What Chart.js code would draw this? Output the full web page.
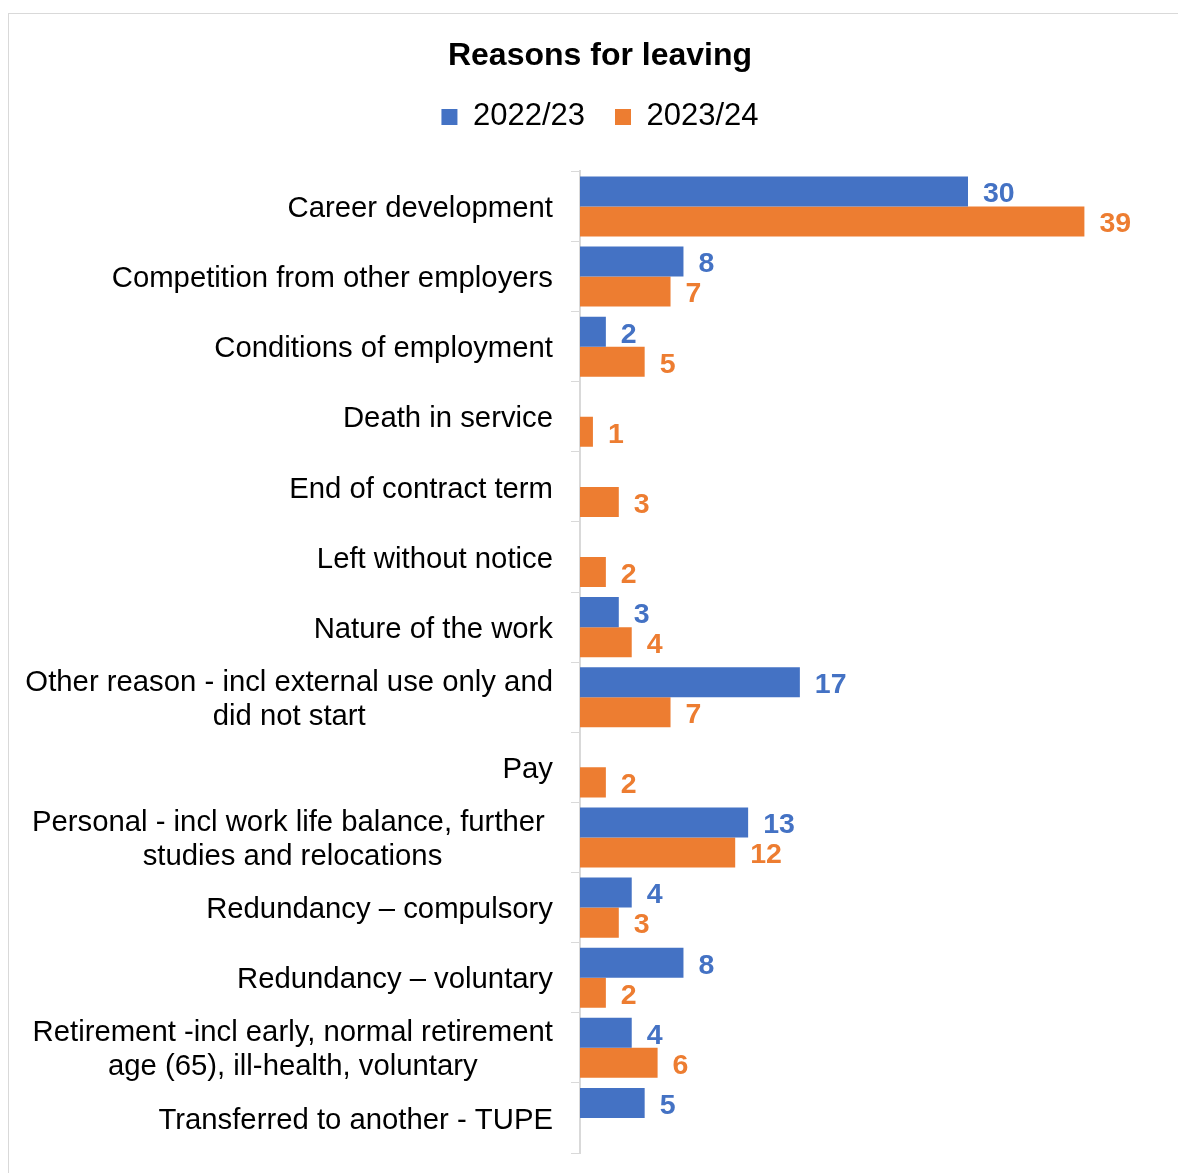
<!DOCTYPE html>
<html>
<head>
<meta charset="utf-8">
<script src="https://cdn.jsdelivr.net/npm/chart.js@4.4.1/dist/chart.umd.min.js"></script>
<style>
  html, body { margin: 0; padding: 0; background: #fff; overflow: hidden; }
  #box {
    position: absolute; left: 8px; top: 13px;
    width: 1184px; height: 1180px;
    border: 1px solid #d9d9d9; background: #fff;
  }
  #box canvas { display: block; }
</style>
</head>
<body>
<div id="box"><canvas id="leaversChart" width="1182" height="1175"></canvas></div>
<script>
// Categories (multi-line labels kept as arrays)
const reasons = [
  ["Career development"],
  ["Competition from other employers"],
  ["Conditions of employment"],
  ["Death in service"],
  ["End of contract term"],
  ["Left without notice"],
  ["Nature of the work"],
  ["Other reason - incl external use only and", "did not start"],
  ["Pay"],
  ["Personal - incl work life balance, further ", "studies and relocations"],
  ["Redundancy \u2013 compulsory"],
  ["Redundancy \u2013 voluntary"],
  ["Retirement -incl early, normal retirement", "age (65), ill-health, voluntary"],
  ["Transferred to another - TUPE"]
];

// Series values
const leavers2223 = [30, 8, 2, null, null, null, 3, 17, null, 13, 4, 8, 4, 5];
const leavers2324 = [39, 7, 5, 1, 3, 2, 4, 7, 2, 12, 3, 2, 6, null];

const seriesNames = ["2022/23", "2023/24"];
const fontFamily = "'Liberation Sans', Arial, sans-serif";

// Extra space below the legend
const legendGap = {
  id: "legendGap",
  beforeInit(chart) {
    const fit = chart.legend.fit;
    chart.legend.fit = function () {
      fit.bind(chart.legend)();
      this.height += 29;
    };
  },
};

// Category labels: right-aligned block, lines centred within it
const categoryLabels = {
  id: "categoryLabels",
  afterDraw(chart) {
    const ctx = chart.ctx;
    const yScale = chart.scales.y;
    const rightEdge = yScale.right - 27;
    const lineHeight = 34;
    ctx.save();
    ctx.font = "29.3px " + fontFamily;
    ctx.fillStyle = "#000";
    ctx.textBaseline = "middle";
    ctx.textAlign = "center";
    reasons.forEach((lines, i) => {
      const yc = yScale.getPixelForValue(i) + 2.5;
      const blockWidth = Math.max(...lines.map((l) => ctx.measureText(l).width));
      const xc = rightEdge - blockWidth / 2;
      lines.forEach((line, j) => {
        const y = yc + (j - (lines.length - 1) / 2) * lineHeight;
        ctx.fillText(line, xc, y);
      });
    });
    ctx.restore();
  },
};

// Value labels after each bar
const valueLabels = {
  id: "valueLabels",
  afterDatasetsDraw(chart) {
    const ctx = chart.ctx;
    ctx.save();
    ctx.font = "bold 28.5px " + fontFamily;
    ctx.textBaseline = "middle";
    ctx.textAlign = "left";
    chart.data.datasets.forEach((ds, di) => {
      const meta = chart.getDatasetMeta(di);
      ctx.fillStyle = ds.backgroundColor;
      meta.data.forEach((bar, i) => {
        const v = ds.data[i];
        if (v === null || v === undefined) return;
        ctx.fillText(String(v), bar.x + 15, bar.y + 3);
      });
    });
    ctx.restore();
  },
};

new Chart(document.getElementById("leaversChart").getContext("2d"), {
  type: "bar",
  data: {
    labels: reasons,
    datasets: [
      {
        label: seriesNames[0],
        data: leavers2223,
        backgroundColor: "#4472C4",
        categoryPercentage: 0.857,
        barPercentage: 1.0,
      },
      {
        label: seriesNames[1],
        data: leavers2324,
        backgroundColor: "#ED7D31",
        categoryPercentage: 0.857,
        barPercentage: 1.0,
      },
    ],
  },
  options: {
    indexAxis: "y",
    responsive: false,
    animation: false,
    layout: { padding: { left: 29, right: 29, top: 0, bottom: 36 } },
    plugins: {
      title: {
        display: true,
        text: "Reasons for leaving",
        color: "#000",
        font: { family: fontFamily, size: 32, weight: "bold", lineHeight: 1.2 },
        padding: { top: 23, bottom: -4 },
      },
      legend: {
        display: true,
        position: "top",
        labels: {
          color: "#000",
          boxWidth: 16,
          boxHeight: 16,
          padding: 30,
          font: { family: fontFamily, size: 31 },
        },
      },
      tooltip: { enabled: false },
    },
    scales: {
      x: {
        display: false,
        min: 0,
        max: 45,
      },
      y: {
        afterFit(scale) {
          scale.width = 542;
        },
        ticks: { display: false },
        grid: {
          offset: true,
          drawOnChartArea: false,
          drawTicks: true,
          tickLength: 9,
          color: "#d9d9d9",
          lineWidth: 1,
        },
        border: { display: true, color: "#d9d9d9", width: 2 },
      },
    },
  },
  plugins: [legendGap, categoryLabels, valueLabels],
});
</script>
</body>
</html>
